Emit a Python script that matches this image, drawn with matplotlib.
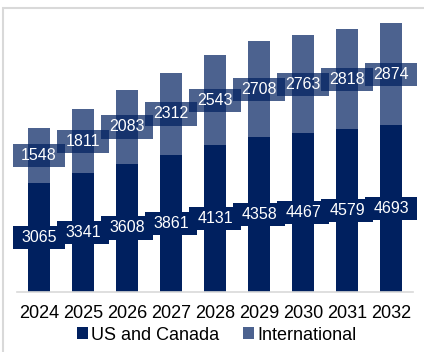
import matplotlib
matplotlib.use("Agg")
import matplotlib.pyplot as plt
from matplotlib.patches import Rectangle
from matplotlib.path import Path

years = ["2024", "2025", "2026", "2027", "2028", "2029", "2030", "2031", "2032"]
us_canada = [3065, 3341, 3608, 3861, 4131, 4358, 4467, 4579, 4693]
international = [1548, 1811, 2083, 2312, 2543, 2708, 2763, 2818, 2874]

navy = "#00205f"
intl_color = "#4c628f"

plt.rcParams['font.family'] = ['Liberation Sans', 'DejaVu Sans']


def label_box(x0, y0, width, height, mutation_size):
    px = 0.52 * mutation_size
    py = 0.26 * mutation_size
    x0, y0 = x0 - px, y0 - py
    x1, y1 = x0 + width + 2 * px, y0 + height + 2 * py
    return Path([(x0, y0), (x1, y0), (x1, y1), (x0, y1), (x0, y0)], closed=True)


fig = plt.figure(figsize=(4.24, 3.52), dpi=100)
W, H = 424, 352
ax = fig.add_axes([17 / W, 1 - 292 / H, 396 / W, 284 / H])

x = list(range(len(years)))
b1 = ax.bar(x, us_canada, width=0.5, color=navy, label="US and Canada", zorder=2)
b2 = ax.bar(x, international, width=0.5, bottom=us_canada, color=intl_color,
            label="International", zorder=2)

for i in x:
    ax.text(i, us_canada[i] / 2, str(us_canada[i]), ha="center", va="center",
            color="white", fontsize=11.5, zorder=4,
            bbox=dict(boxstyle=label_box, fc=navy, ec="none"))
    ax.text(i, us_canada[i] + international[i] / 2, str(international[i]),
            ha="center", va="center", color="white", fontsize=11.5, zorder=4,
            bbox=dict(boxstyle=label_box, fc=navy, ec="none", alpha=0.7))

ax.set_xlim(-0.5, len(years) - 0.5)
ax.set_ylim(0, 8000)
ax.set_xticks(x)
ax.set_xticklabels(years, fontsize=13)
ax.tick_params(axis="x", length=0, pad=9)
ax.set_yticks([])
for s in ["top", "right", "left"]:
    ax.spines[s].set_visible(False)
ax.spines["bottom"].set_color("#d9d9d9")
ax.spines["bottom"].set_linewidth(1.2)
ax.patch.set_alpha(0)

fig.legend(handles=[b1, b2], loc="center left", bbox_to_anchor=(77 / W, 1 - 335 / H),
           ncol=2, frameon=False, fontsize=13, handlelength=0.6, handleheight=0.6,
           handletextpad=0.2, columnspacing=1.3, borderaxespad=0, borderpad=0)

fig.patches.append(Rectangle((3 / W, -0.1), 1.2, 1.1 - 8 / H, transform=fig.transFigure,
                             fill=False, ec="#d9d9d9", lw=1.5, zorder=0))

fig.savefig("out.png", dpi=100)
